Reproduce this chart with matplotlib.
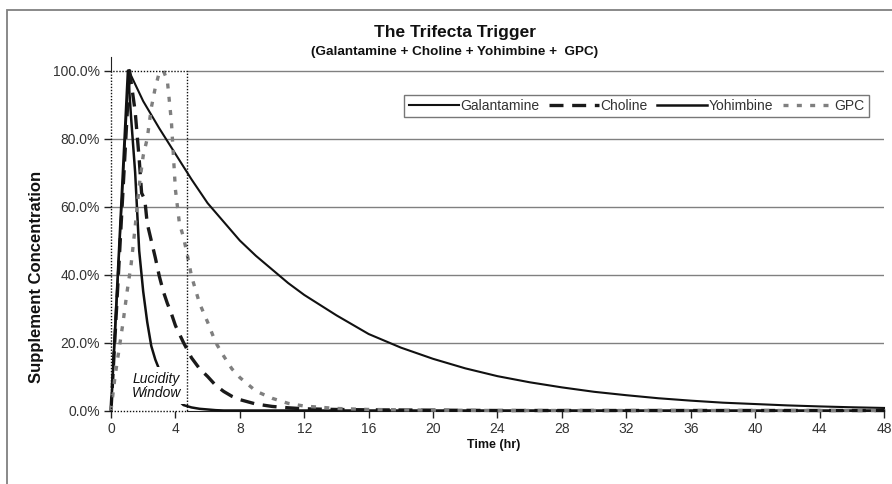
import matplotlib
matplotlib.use("Agg")
import matplotlib.pyplot as plt
from matplotlib.patches import Rectangle
from matplotlib.ticker import FuncFormatter

plt.rcParams['font.family'] = ['Liberation Sans', 'DejaVu Sans']

# ---------------- data (percent of peak concentration) ----------------
t_gal = [0, 1.1, 2, 3, 4, 5, 6, 7, 8, 9, 10, 11, 12, 14, 16, 18, 20, 22, 24, 26,
         28, 30, 32, 34, 36, 38, 40, 42, 44, 46, 48]
galantamine = [0, 100, 91, 83, 75.5, 68, 61, 55.5, 50, 45.5, 41.5, 37.5, 34, 28,
               22.5, 18.5, 15.2, 12.4, 10.1, 8.3, 6.8, 5.5, 4.5, 3.6, 2.9, 2.3,
               1.9, 1.5, 1.2, 0.95, 0.75]

t_cho = [0, 1.15, 1.5, 1.75, 1.9, 2.1, 2.25, 2.5, 2.75, 3, 3.25, 3.5, 3.75, 4, 4.5,
         5, 5.5, 6, 6.5, 7, 7.5, 8, 9, 10, 11, 12, 14, 16, 20, 24, 32, 40, 48]
choline = [0, 100, 88, 74, 64, 62, 55, 50, 45, 39.5, 35, 31.5, 28.5, 25, 20,
           15.5, 12.3, 10, 7.4, 5.6, 4.2, 3.2, 1.9, 1.2, 0.8, 0.5, 0.3, 0.2, 0.1,
           0, 0, 0, 0]

t_yoh = [0, 1.05, 1.25, 1.5, 1.75, 2, 2.25, 2.5, 2.75, 3, 3.5, 4, 4.5, 5, 5.5, 6,
         6.5, 7, 8, 12, 16, 24, 32, 40, 48]
yohimbine = [0, 100, 86, 70, 47, 35, 26, 19, 15, 12, 7, 3.8, 1.6, 0.9, 0.5, 0.3,
             0.1, 0, 0, 0, 0, 0, 0, 0, 0]

t_gpc = [0, 0.25, 0.5, 0.75, 1, 1.25, 1.5, 1.75, 2, 2.25, 2.5, 2.75, 3, 3.25, 3.5,
         3.75, 4, 4.25, 4.5, 4.75, 5, 5.5, 6, 6.5, 7, 7.5, 8, 9, 10, 11, 12, 14,
         16, 20, 24, 32, 40, 48]
gpc = [0, 10, 18, 26, 35, 43, 54, 66, 75, 80, 89, 95, 99.5, 100, 97, 85, 65, 55,
       51, 45.5, 39.5, 31.5, 26, 20, 16, 12.3, 9.7, 5.7, 3.6, 2.1, 1.3, 0.6, 0.3,
       0.1, 0, 0, 0, 0]

series_names = ["Galantamine", "Choline", "Yohimbine", "GPC"]
x_ticks = [0, 4, 8, 12, 16, 20, 24, 28, 32, 36, 40, 44, 48]
y_ticks = [0, 20, 40, 60, 80, 100]
window_end = 4.7
window_label = "Lucidity\nWindow"
title = "The Trifecta Trigger"
subtitle = "(Galantamine + Choline + Yohimbine +  GPC)"
x_label = "Time (hr)"
y_label = "Supplement Concentration"

# ---------------- figure ----------------
W, H = 892, 484
fig = plt.figure(figsize=(W / 100, H / 100), dpi=100)
fig.patch.set_facecolor("white")

def fx(px):
    return px / W

def fy(py):
    return 1 - py / H

ax = fig.add_axes([fx(111), fy(410.5), fx(884) - fx(111), fy(57) - fy(410.5)])
ax.set_xlim(0, 48)
ax.set_ylim(0, 104)
ax.set_facecolor("white")

# gridlines (the 100% line is replaced by the dotted window edge inside the window)
for yv in y_ticks[1:]:
    x0 = window_end if yv == 100 else 0
    ax.plot([x0, 48], [yv, yv], color="#808080", lw=1.0, zorder=1)

gal_line, = ax.plot(t_gal, galantamine, color="#111111", lw=1.5, zorder=3,
                    clip_on=False, solid_joinstyle="round")
cho_line, = ax.plot(t_cho, choline, color="#1a1a1a", lw=2.4, zorder=3,
                    dashes=(4.2, 2.6), clip_on=False)
yoh_line, = ax.plot(t_yoh, yohimbine, color="#111111", lw=1.8, zorder=3,
                    clip_on=False, solid_joinstyle="round")
gpc_line, = ax.plot(t_gpc, gpc, color="#7f7f7f", lw=2.4, zorder=3,
                    dashes=(1.5, 2.5), clip_on=False)

# lucidity window
win = Rectangle((0, 0), window_end, 100, fill=False, edgecolor="#111111",
                lw=1.0, linestyle=(0, (1, 1.2)), zorder=4, clip_on=False)
ax.add_patch(win)
ax.add_patch(Rectangle((1.1, 1.8), 3.45, 10.9, facecolor="white",
                       edgecolor="none", zorder=3.5))
ax.text(2.82, 7.3, window_label, ha="center", va="center", fontsize=10,
        style="italic", color="#111111", zorder=5, linespacing=1.0)

# axes styling
for s in ["top", "right"]:
    ax.spines[s].set_visible(False)
ax.spines["left"].set_bounds(100, 104)
ax.spines["bottom"].set_bounds(window_end, 48)
ax.spines["left"].set_color("#222222")
ax.spines["bottom"].set_color("#222222")

ax.set_xticks(x_ticks)
ax.set_yticks(y_ticks)
ax.yaxis.set_major_formatter(FuncFormatter(lambda v, p: f"{v:.1f}%"))
ax.tick_params(axis="both", direction="out", length=5, width=1,
               color="#222222", labelsize=10, labelcolor="#333333", pad=3)

# legend
handles = [gal_line, cho_line, yoh_line, gpc_line]
leg = fig.legend(handles, series_names, loc="center",
                 bbox_to_anchor=(fx(636.5), fy(106)), ncol=4, fontsize=10,
                 frameon=True, fancybox=False, handlelength=3.6,
                 handletextpad=0.1, columnspacing=0.7, borderpad=0.3,
                 borderaxespad=0)
leg.get_frame().set_edgecolor("#555555")
leg.get_frame().set_linewidth(1.0)
for txt in leg.get_texts():
    txt.set_color("#333333")

# titles and labels
fig.text(fx(455), fy(36.5), title, ha="center", va="baseline", fontsize=12.5,
         fontweight="bold", color="#111111")
fig.text(fx(455), fy(54.5), subtitle, ha="center", va="baseline", fontsize=9.7,
         fontweight="bold", color="#111111")
fig.text(fx(37), fy(277), y_label, ha="center", va="center", rotation=90,
         fontsize=12, fontweight="bold", color="#111111")
fig.text(fx(494), fy(445), x_label, ha="center", va="center", fontsize=9,
         fontweight="bold", color="#111111")

# outer chart border (cropped at the right and bottom)
fig.add_artist(Rectangle((fx(7), -0.1), 1.2, fy(10) + 0.1, transform=fig.transFigure,
                         fill=False, edgecolor="#808080", lw=1.3))

fig.savefig("out.png", dpi=100, facecolor="white")
